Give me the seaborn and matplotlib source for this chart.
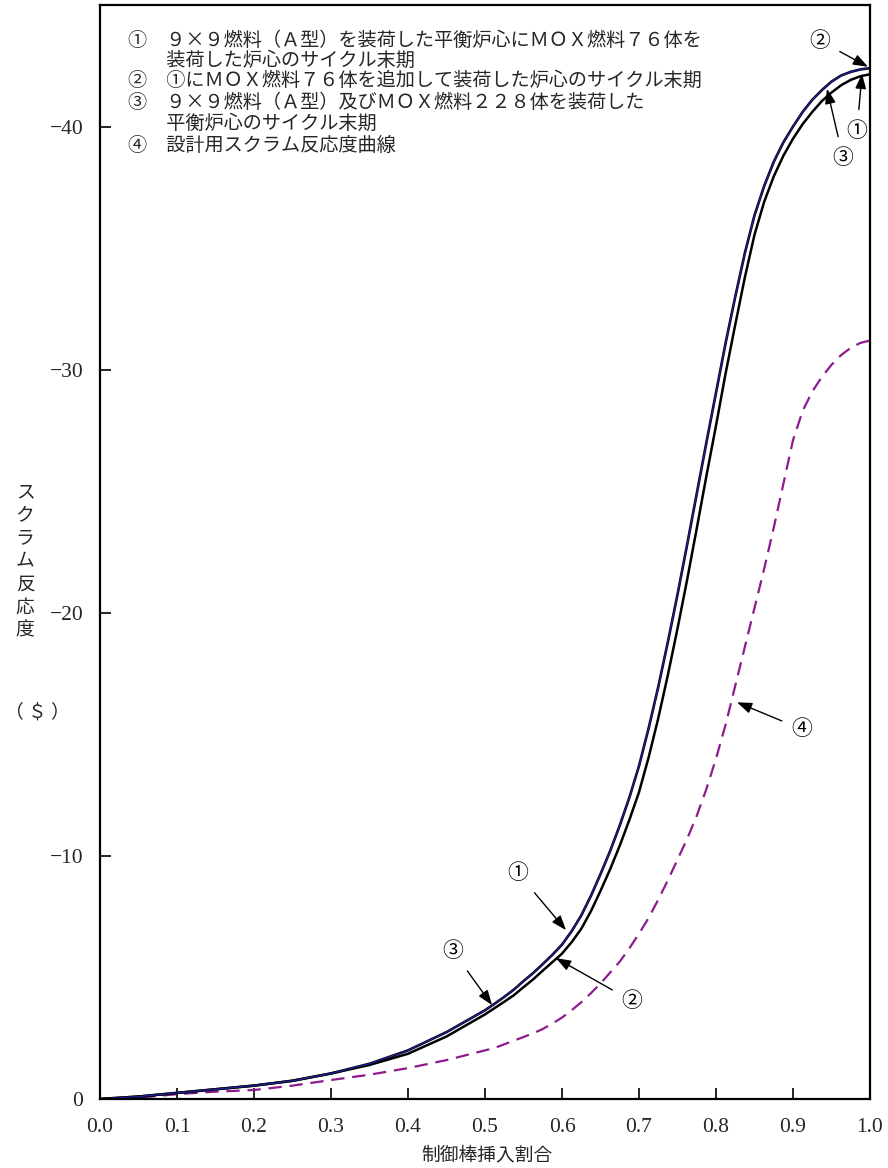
import matplotlib
matplotlib.use("Agg")
import matplotlib.pyplot as plt
import seaborn as sns
import pandas as pd

# ---- data ----
x_frac = [0.0, 0.05, 0.1, 0.15, 0.2, 0.25, 0.3, 0.35, 0.4, 0.45,
          0.5, 0.5125, 0.525, 0.5375, 0.55, 0.5625, 0.575, 0.5875,
          0.6, 0.6125, 0.625, 0.6375, 0.65, 0.6625, 0.675, 0.6875,
          0.7, 0.7125, 0.725, 0.7375, 0.75, 0.7625, 0.775, 0.7875,
          0.8, 0.8125, 0.825, 0.8375, 0.85, 0.8625, 0.875, 0.8875,
          0.9, 0.9125, 0.925, 0.9375, 0.95, 0.9625, 0.975, 0.9875, 1.0]
# (1) blue line and (3) black line (upper / left pair)
curve1 = [0, 0.1, 0.25, 0.4, 0.55, 0.75, 1.05, 1.45, 2.0, 2.75,
          3.65, 3.92, 4.2, 4.5, 4.85, 5.18, 5.55, 5.93,
          6.35, 6.9, 7.55, 8.35, 9.25, 10.2, 11.25, 12.4,
          13.7, 15.25, 16.95, 18.8, 20.75, 22.8, 24.9, 27.0,
          29.05, 31.1, 33.0, 34.8, 36.35, 37.55, 38.55, 39.35,
          40.0, 40.6, 41.1, 41.5, 41.85, 42.1, 42.25, 42.35, 42.4]
curve3 = list(curve1)
# (2) black line (lower / right)
curve2 = [0, 0.1, 0.25, 0.4, 0.55, 0.75, 1.05, 1.4, 1.86, 2.57,
          3.48, 3.74, 4.0, 4.27, 4.6, 4.92, 5.28, 5.63,
          5.98, 6.45, 7.0, 7.72, 8.56, 9.45, 10.42, 11.48,
          12.62, 14.05, 15.66, 17.44, 19.35, 21.36, 23.47, 25.62,
          27.7, 29.85, 31.85, 33.8, 35.55, 36.9, 37.95, 38.8,
          39.5, 40.1, 40.6, 41.05, 41.4, 41.7, 41.92, 42.07, 42.15]
# (4) design scram reactivity curve
curve4 = [0, 0.05, 0.2, 0.3, 0.37, 0.55, 0.78, 1.0, 1.27, 1.6,
          2.0, 2.1, 2.25, 2.4, 2.55, 2.7, 2.88, 3.1,
          3.35, 3.65, 3.98, 4.35, 4.75, 5.2, 5.65, 6.2,
          6.8, 7.45, 8.2, 9.0, 9.85, 10.7, 11.65, 12.75,
          14.0, 15.4, 17.0, 18.6, 20.2, 21.8, 23.5, 25.3,
          27.1, 28.3, 29.1, 29.7, 30.2, 30.6, 30.9, 31.1, 31.2]

x_ticks = [0.0, 0.1, 0.2, 0.3, 0.4, 0.5, 0.6, 0.7, 0.8, 0.9, 1.0]
x_tick_labels = ["0.0", "0.1", "0.2", "0.3", "0.4", "0.5", "0.6", "0.7", "0.8", "0.9", "1.0"]
y_ticks = [0, 10, 20, 30, 40]
y_tick_labels = ["0", "\u221210", "\u221220", "\u221230", "\u221240"]

legend_lines = [
    "①　９×９燃料（Ａ型）を装荷した平衡炉心にＭＯＸ燃料７６体を",
    "　　装荷した炉心のサイクル末期",
    "②　①にＭＯＸ燃料７６体を追加して装荷した炉心のサイクル末期",
    "③　９×９燃料（Ａ型）及びＭＯＸ燃料２２８体を装荷した",
    "　　平衡炉心のサイクル末期",
    "④　設計用スクラム反応度曲線",
]
x_label = "制御棒挿入割合"
y_label_chars = ["ス", "ク", "ラ", "ム", "反", "応", "度"]
y_unit = "（ ＄ ）"

df = pd.DataFrame({"x": x_frac, "c1": curve1, "c2": curve2, "c3": curve3, "c4": curve4})

sns.set_theme(style="white")
plt.rcParams["font.family"] = ["Noto Sans CJK JP", "DejaVu Sans"]

fig = plt.figure(figsize=(8.88, 11.68), dpi=100)
ax = fig.add_axes([100 / 888, 69 / 1168, 770 / 888, 1094 / 1168])

sns.lineplot(data=df, x="x", y="c4", ax=ax, color="#8e1a8e", linewidth=1.6,
             linestyle=(0, (6, 3.5)))
sns.lineplot(data=df, x="x", y="c2", ax=ax, color="black", linewidth=1.8)
sns.lineplot(data=df, x="x", y="c3", ax=ax, color="black", linewidth=1.9)
sns.lineplot(data=df, x="x", y="c1", ax=ax, color="#2020a0", linewidth=0.9)

ax.set_xlim(0, 1.0)
ax.set_ylim(0, 45)
ax.set_xticks(x_ticks)
ax.set_xticklabels(x_tick_labels, family="Liberation Serif", fontsize=15.5)
ax.set_yticks(y_ticks)
ax.set_yticklabels(y_tick_labels, family="Liberation Serif", fontsize=15.5)
ax.tick_params(axis="both", direction="in", length=8, width=1.2, color="black",
               bottom=True, left=True, top=False, right=False)
ax.tick_params(axis="x", pad=14)
ax.tick_params(axis="y", pad=12)
ax.set_xlabel("")
ax.set_ylabel("")
for s in ax.spines.values():
    s.set_color("black")
    s.set_linewidth(1.6)

# x label
fig.text(487 / 888, 1 - 1155 / 1168, x_label, ha="center", va="center", fontsize=13.5)
# y label (vertical stacked)
for i, ch in enumerate(y_label_chars):
    fig.text(25 / 888, 1 - (492 + i * 23) / 1168, ch, ha="center", va="center", fontsize=13.5)
fig.text(37 / 888, 1 - 712 / 1168, y_unit, ha="center", va="center", fontsize=13.5)

# legend text block
line_y = [40, 60, 80, 102, 123, 145]
for ly, txt in zip(line_y, legend_lines):
    fig.text(128 / 888, 1 - ly / 1168, txt, ha="left", va="center", fontsize=13.8)

# annotations
def px(xp, yp):
    return ((xp - 100) / 770, (1099 - yp) / 24.33)

arrows = [
    ("②", (820, 40), (868, 66)),
    ("①", (857, 130), (862, 73)),
    ("③", (843, 157), (827, 88)),
    ("④", (802, 729), (737, 702)),
    ("①", (518, 873), (566, 930)),
    ("③", (453, 951), (492, 1005)),
    ("②", (632, 1001), (556, 958)),
]
for lab, tpos, tip in arrows:
    ax.annotate(lab, xy=px(*tip), xytext=px(*tpos), ha="center", va="center",
                fontsize=15, color="black",
                arrowprops=dict(arrowstyle="-|>,head_length=0.6,head_width=0.22",
                                color="black", lw=1.0, shrinkA=5, shrinkB=0))

fig.savefig("out.png", dpi=100)
